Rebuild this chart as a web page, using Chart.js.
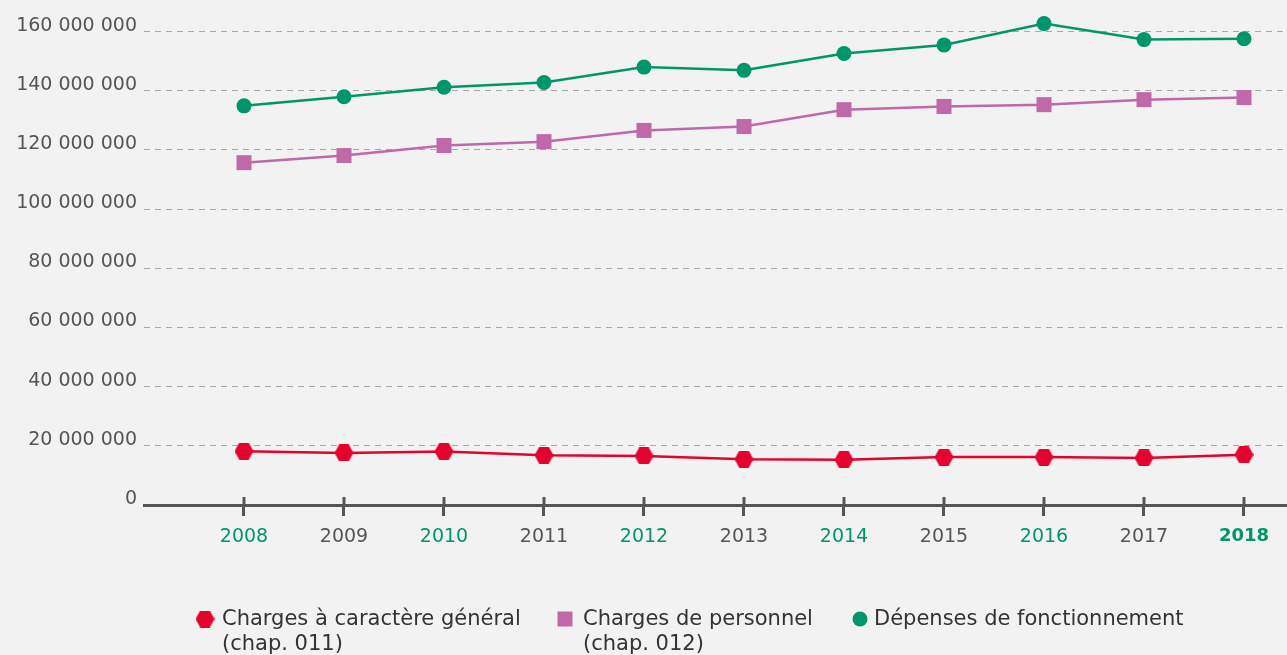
<!DOCTYPE html>
<html lang="fr">
<head>
<meta charset="utf-8">
<title>Dépenses de fonctionnement 2008-2018</title>
<script src="https://cdn.jsdelivr.net/npm/chart.js@4"></script>
<style>
  html, body { margin: 0; padding: 0; background: #f2f2f2; }
  #graphique { display: block; }
</style>
</head>
<body>
<canvas id="graphique" width="1287" height="655"></canvas>
<script>
// Années et montants (en euros)
const annees = [2008, 2009, 2010, 2011, 2012, 2013, 2014, 2015, 2016, 2017, 2018];
const chargesGenerales = [18200000, 17600000, 18100000, 16800000, 16600000, 15500000, 15300000, 16200000, 16200000, 15900000, 17000000];
const chargesPersonnel = [115700000, 118100000, 121500000, 122800000, 126600000, 127900000, 133600000, 134700000, 135300000, 137000000, 137700000];
const depensesFonctionnement = [134900000, 138000000, 141200000, 142800000, 148000000, 146900000, 152600000, 155500000, 162700000, 157300000, 157600000];
const graduationsY = [0, 20000000, 40000000, 60000000, 80000000, 100000000, 120000000, 140000000, 160000000];
const legendeGenerales = ['Charges à caractère général', '(chap. 011)'];
const legendePersonnel = ['Charges de personnel', '(chap. 012)'];
const legendeDepenses = ['Dépenses de fonctionnement'];

const VERT = '#00966c';
const VIOLET = '#bf69a8';
const ROUGE = '#e4032e';
const GRIS = '#555555';
const POLICE = "'DejaVu Sans', sans-serif";

// Hexagone rouge (pas de style natif dans Chart.js)
function hexagone(couleur) {
    const c = document.createElement('canvas');
    c.width = 19;
    c.height = 17;
    const g = c.getContext('2d');
    g.fillStyle = couleur;
    g.beginPath();
    g.moveTo(0, 8.5);
    g.lineTo(4.75, 0);
    g.lineTo(14.25, 0);
    g.lineTo(19, 8.5);
    g.lineTo(14.25, 17);
    g.lineTo(4.75, 17);
    g.closePath();
    g.fill();
    return c;
}
const hexRouge = hexagone(ROUGE);

function points(valeurs) {
    return annees.map((a, i) => ({ x: a, y: valeurs[i] }));
}

function formatMontant(v) {
    return String(v).replace(/\B(?=(\d{3})+(?!\d))/g, ' ');
}

// Petits traits au-dessus de l'axe des x (la partie basse est native)
const traitsAxe = {
    id: 'traitsAxe',
    beforeDatasetsDraw(chart) {
        const ctx = chart.ctx;
        const x = chart.scales.x;
        const bas = chart.chartArea.bottom;
        ctx.save();
        ctx.strokeStyle = GRIS;
        ctx.lineWidth = 3;
        x.ticks.forEach((t, i) => {
            const px = x.getPixelForTick(i);
            ctx.beginPath();
            ctx.moveTo(px, bas - 8);
            ctx.lineTo(px, bas);
            ctx.stroke();
        });
        ctx.restore();
    }
};

// Légende sur deux lignes, en bas
const legendeBas = {
    id: 'legendeBas',
    afterDraw(chart) {
        const ctx = chart.ctx;
        const marques = [205, 565, 860];
        const textes = [222, 583, 874];
        const y = 620;
        ctx.save();
        ctx.font = '21px ' + POLICE;
        ctx.textBaseline = 'middle';
        chart.data.datasets.forEach((ds, i) => {
            const mx = marques[i];
            ctx.fillStyle = ds.backgroundColor;
            if (ds.pointStyle === 'rect') {
                ctx.fillRect(mx - 7.5, y - 8.5, 15, 15);
            } else if (ds.pointStyle === 'circle') {
                ctx.beginPath();
                ctx.arc(mx, y - 1, 7.5, 0, Math.PI * 2);
                ctx.fill();
            } else {
                ctx.drawImage(ds.pointStyle, mx - 9.5, y - 9.5);
            }
            ctx.fillStyle = '#333333';
            ds.label.forEach((ligne, k) => {
                ctx.fillText(ligne, textes[i], y + k * 25);
            });
        });
        ctx.restore();
    }
};

new Chart(document.getElementById('graphique'), {
    type: 'line',
    data: {
        datasets: [{
            label: legendeGenerales,
            data: points(chargesGenerales),
            borderColor: ROUGE,
            backgroundColor: ROUGE,
            borderWidth: 2.5,
            pointStyle: hexRouge,
            pointRadius: 9,
            pointBorderWidth: 0
        }, {
            label: legendePersonnel,
            data: points(chargesPersonnel),
            borderColor: VIOLET,
            backgroundColor: VIOLET,
            borderWidth: 2.5,
            pointStyle: 'rect',
            pointRadius: 10.6,
            pointBorderWidth: 0
        }, {
            label: legendeDepenses,
            data: points(depensesFonctionnement),
            borderColor: VERT,
            backgroundColor: VERT,
            borderWidth: 2.5,
            pointStyle: 'circle',
            pointRadius: 7.5,
            pointBorderWidth: 0
        }]
    },
    options: {
        responsive: false,
        animation: false,
        layout: {
            autoPadding: false,
            padding: { top: 2, right: 0, bottom: 110, left: 0 }
        },
        plugins: {
            legend: { display: false },
            tooltip: { enabled: false }
        },
        scales: {
            x: {
                type: 'linear',
                min: 2007,
                max: 2018.43,
                afterBuildTicks: s => { s.ticks = annees.map(a => ({ value: a })); },
                afterFit: s => {
                    s.height = 40;
                    s.paddingLeft = 0;
                    s.paddingRight = 0;
                },
                border: { display: true, color: GRIS, width: 3 },
                grid: {
                    drawOnChartArea: false,
                    drawTicks: true,
                    tickLength: 11,
                    tickWidth: 3,
                    tickColor: GRIS
                },
                ticks: {
                    padding: 10,
                    maxRotation: 0,
                    autoSkip: false,
                    callback: v => String(v),
                    color: c => (c.tick && c.tick.value % 2 === 0) ? VERT : GRIS,
                    font: c => ({
                        family: POLICE,
                        size: (c.tick && c.tick.value === 2018) ? 18 : 19,
                        weight: (c.tick && c.tick.value === 2018) ? 'bold' : 'normal'
                    })
                }
            },
            y: {
                min: 0,
                max: 170000000,
                afterBuildTicks: s => { s.ticks = graduationsY.map(v => ({ value: v })); },
                afterFit: s => {
                    s.width = 144;
                    s.paddingTop = 0;
                    s.paddingBottom = 0;
                },
                border: { display: false, dash: [6, 5] },
                grid: {
                    drawTicks: false,
                    color: '#a8a8a8',
                    lineWidth: 1
                },
                ticks: {
                    padding: 7,
                    labelOffset: -6,
                    color: GRIS,
                    font: { family: POLICE, size: 19 },
                    callback: v => formatMontant(v)
                }
            }
        }
    },
    plugins: [traitsAxe, legendeBas]
});
</script>
</body>
</html>
